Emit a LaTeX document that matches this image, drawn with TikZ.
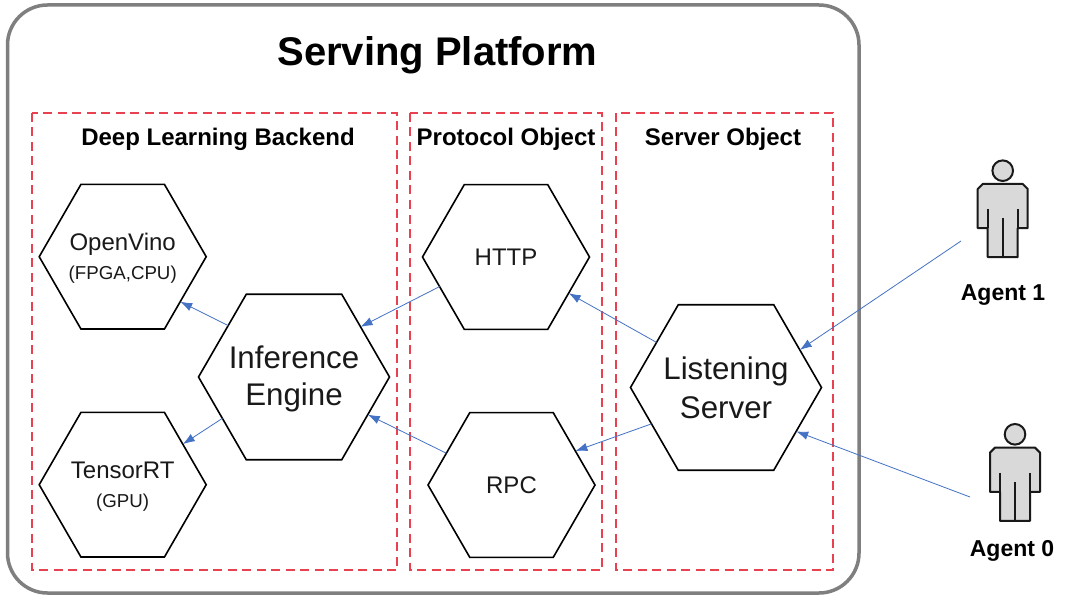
\documentclass[tikz,border=0pt]{standalone}
\usepackage{fontspec}
\setmainfont{Liberation Sans}
\usetikzlibrary{arrows.meta,shapes.geometric}
\definecolor{framegray}{HTML}{7F7F7F}
\definecolor{dashred}{HTML}{E8414F}
\definecolor{arrowblue}{HTML}{4472C4}
\definecolor{bodygray}{HTML}{D9D9D9}
\newcommand{\fs}[1]{\fontsize{#1}{#1}\selectfont}
\tikzset{
  frame/.style={draw=framegray,line width=3.5pt,rounded corners=40pt},
  group/.style={draw=dashred,line width=1.6pt,dash pattern=on 9pt off 5.5pt},
  hex/.style={regular polygon,regular polygon sides=6,draw=black,line width=1.6pt,inner sep=0pt,outer sep=0pt},
  smallhex/.style={hex,minimum size=167pt},
  bighex/.style={hex,minimum size=191pt},
  smalltext/.style={align=center,text=black!90,font=\fs{24},inner sep=0pt},
  bigtext/.style={align=center,text=black!90,font=\fs{31.3},inner sep=0pt},
  link/.style={draw=arrowblue,line width=0.8pt,-{Latex[length=12pt,width=8.5pt]}},
  heading/.style={font=\bfseries\fs{24},inner sep=0pt},
  agentname/.style={font=\bfseries\fs{23},inner sep=0pt},
  person/.pic={
    \draw[fill=bodygray,draw=black!90,line width=2pt] (0,0) circle[radius=10.3pt];
    \draw[fill=bodygray,draw=black!90,line width=2pt,line join=round]
      (-25,18.3)--(-20,13.3)--(20,13.3)--(25,18.3)--(25,57.5)--(15,57.5)--(15,86.5)--(-15,86.5)--(-15,57.5)--(-25,57.5)--cycle;
    \draw[draw=black!90,line width=2pt] (-15,38.5)--(-15,57.5) (15,38.5)--(15,57.5) (0,47.5)--(0,86.5);
  }
}
\begin{document}
\begin{tikzpicture}[x=1pt,y=-1pt]
\useasboundingbox (0,0) rectangle (1070,604);
\fill[white] (0,0) rectangle (1070,604);
\draw[frame] (7.5,5) rectangle (859,593);
\draw[group] (32,113) rectangle (397,570);
\draw[group] (410,113) rectangle (602,570);
\draw[group] (616,113) rectangle (833,570);

\node[font=\bfseries\fs{40},inner sep=0pt] (title) at (437.5,55) {Serving Platform};
\node[heading] (h1) at (218,139) {Deep Learning Backend};
\node[heading] (h2) at (506,139) {Protocol Object};
\node[heading] (h3) at (723,139) {Server Object};

\node[smallhex,label={[smalltext,yshift=-2pt]center:{OpenVino\\[5pt]{\fs{18.7}(FPGA,CPU)}}}] (openvino) at (122.7,256.7) {};
\node[smallhex,label={[smalltext,yshift=-1.5pt]center:{TensorRT\\[5pt]{\fs{18.7}(GPU)}}}] (tensor) at (122.7,484.7) {};
\node[bighex,label={[bigtext,yshift=-2pt]center:{Inference\\[6pt]Engine}}] (infer) at (294,377) {};
\node[smallhex,label={[smalltext]center:{HTTP}}] (http) at (506,257) {};
\node[smallhex,label={[smalltext]center:{RPC}}] (rpc) at (511.5,485) {};
\node[bighex,label={[bigtext]center:{Listening\\[7.5pt]Server}}] (listen) at (726,387.5) {};

\pic at (1002.7,170.7) {person};
\pic at (1015,434.3) {person};
\node[agentname] (agent1) at (1003,295) {Agent 1};
\node[agentname] (agent0) at (1012,551) {Agent 0};
\coordinate (from1) at (961,241);
\coordinate (from0) at (970,497);

\draw[link] (from1) -- (listen.27.5);
\draw[link] (from0) -- (listen.-32.7);
\draw[link] (listen.147.9) -- (http.-30.1);
\draw[link] (listen.206.9) -- (rpc.28.2);
\draw[link] (http.204) -- (infer.37.3);
\draw[link] (rpc.154.3) -- (infer.-27.2);
\draw[link] (infer.142.7) -- (openvino.-38.1);
\draw[link] (infer.210.8) -- (tensor.34.9);
\end{tikzpicture}
\end{document}
